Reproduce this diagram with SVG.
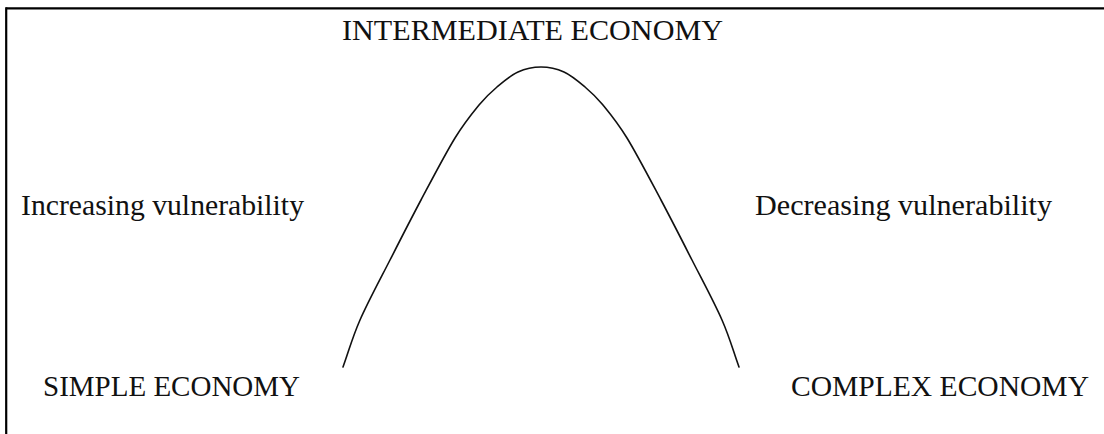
<svg xmlns="http://www.w3.org/2000/svg" width="1104" height="434" viewBox="0 0 1104 434">
  <style>
    .lbl { font-family: "Liberation Serif", "Times New Roman", serif; font-size: 29.8px; fill: #111; }
    .frame { stroke: #000; stroke-width: 2.2; fill: none; }
    .curve { stroke: #111; stroke-width: 1.6; fill: none; stroke-linecap: round; stroke-linejoin: round; }
  </style>
  <rect width="1104" height="434" fill="#fff"/>
  <g id="frame">
    <line class="frame" x1="6.2" y1="8.3" x2="1104" y2="8.3"/>
    <line class="frame" x1="6.2" y1="7.2" x2="6.2" y2="434"/>
  </g>
  <g id="connectors">
    <path class="curve" d="M343,367 C348.7,351.3 352.2,337.8 360,320 S379.8,280 390,260 S410.2,220.3 421,200 S445.3,153.8 455,138 S472,113.5 479,105 S490.5,92.5 497,87 S510.7,75.3 518,72 S533.3,67 541,67 S556.7,68.7 564,72 S578.5,81.5 585,87 S596,96.5 603,105 S617.3,122.2 627,138 S650.2,179.7 661,200 S681.8,240 692,260 S714.2,302.2 722,320 S733.3,351.3 739,367"/>
  </g>
  <g id="intermediate">
    <text class="lbl" x="342" y="40" textLength="381" lengthAdjust="spacingAndGlyphs">INTERMEDIATE ECONOMY</text>
  </g>
  <g id="increasing">
    <text class="lbl" x="21" y="215" textLength="283" lengthAdjust="spacingAndGlyphs">Increasing vulnerability</text>
  </g>
  <g id="decreasing">
    <text class="lbl" x="755" y="215" textLength="297" lengthAdjust="spacingAndGlyphs">Decreasing vulnerability</text>
  </g>
  <g id="simple">
    <text class="lbl" x="43" y="396" textLength="257" lengthAdjust="spacingAndGlyphs">SIMPLE ECONOMY</text>
  </g>
  <g id="complex">
    <text class="lbl" x="791" y="396" textLength="298" lengthAdjust="spacingAndGlyphs">COMPLEX ECONOMY</text>
  </g>
</svg>
